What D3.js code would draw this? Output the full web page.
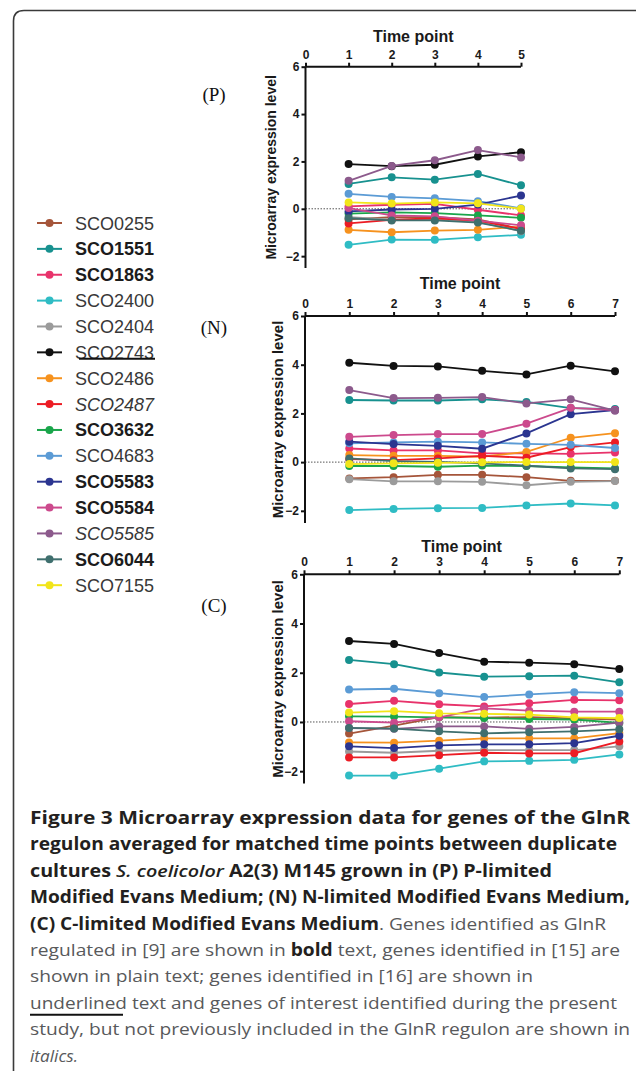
<!DOCTYPE html>
<html><head><meta charset="utf-8">
<script src="https://cdn.jsdelivr.net/npm/d3@7"></script>
<style>body{margin:0;background:#fff}svg{display:block}</style>
</head><body>
<script>
// ---------- DATA ----------
const genes = ["SCO0255","SCO1551","SCO1863","SCO2400","SCO2404","SCO2743","SCO2486","SCO2487","SCO3632","SCO4683","SCO5583","SCO5584","SCO5585","SCO6044","SCO7155"];
const colors = ["#a5553a","#17918f","#e8336b","#2fbcc4","#9b9b9b","#111111","#f6921e","#ec1c24","#19a54a","#5b9bd5","#2b3590","#cc4a8d","#8c5a8c","#3f6f6e","#f2e51a"];
const geneStyle = ["plain","bold","bold","plain","plain","underline","plain","italic","bold","plain","bold","bold","italic","bold","plain"];
const timeP = [1,2,3,4,5];
const timeN = [1,2,3,4,5,6,7];
const timeC = [1,2,3,4,5,6,7];
const yTicks = [-2,0,2,4,6];
const valuesP = [
 [-0.45,-0.35,-0.35,-0.45,-0.85],
 [1.05,1.33,1.23,1.47,0.99],
 [0.10,0.17,0.21,-0.04,-0.28],
 [-1.52,-1.30,-1.31,-1.20,-1.10],
 [-0.35,-0.45,-0.45,-0.55,-0.95],
 [1.89,1.80,1.86,2.21,2.39],
 [-0.89,-0.99,-0.92,-0.89,-0.75],
 [-0.62,-0.47,-0.40,-0.50,-0.85],
 [-0.20,-0.15,-0.18,-0.28,-0.38],
 [0.63,0.50,0.44,0.32,0.02],
 [-0.11,-0.03,0.00,0.18,0.56],
 [0.03,-0.28,-0.32,-0.50,-0.70],
 [1.18,1.81,2.05,2.48,2.17],
 [-0.40,-0.49,-0.49,-0.58,-0.93],
 [0.27,0.22,0.27,0.23,0.00]
];
const valuesN = [
 [-0.67,-0.62,-0.52,-0.52,-0.62,-0.77,-0.77],
 [2.55,2.53,2.53,2.58,2.47,2.22,2.18],
 [0.56,0.48,0.48,0.36,0.36,0.34,0.40],
 [-1.97,-1.92,-1.89,-1.88,-1.78,-1.70,-1.78],
 [-0.70,-0.79,-0.79,-0.81,-0.95,-0.81,-0.78],
 [4.08,3.95,3.93,3.75,3.60,3.96,3.73],
 [0.29,0.26,0.26,0.22,0.42,1.00,1.19],
 [0.12,0.08,0.15,0.26,0.18,0.62,0.81],
 [-0.16,-0.16,-0.19,-0.14,-0.16,-0.22,-0.26],
 [0.77,0.81,0.84,0.81,0.75,0.71,0.58],
 [0.84,0.74,0.67,0.55,1.18,1.97,2.14],
 [1.04,1.11,1.15,1.15,1.58,2.23,2.14],
 [2.96,2.63,2.64,2.67,2.41,2.58,2.11],
 [0.15,0.04,0.01,-0.05,-0.15,-0.26,-0.29],
 [-0.08,-0.05,-0.03,-0.01,0.00,0.00,0.00]
];
const valuesC = [
 [-0.47,-0.15,0.20,0.18,0.20,0.15,0.10],
 [2.52,2.35,2.01,1.84,1.86,1.88,1.61],
 [0.73,0.86,0.72,0.63,0.76,0.90,0.88],
 [-2.18,-2.18,-1.90,-1.60,-1.58,-1.54,-1.32],
 [-1.20,-1.25,-1.17,-1.14,-1.14,-1.14,-0.99],
 [3.29,3.17,2.80,2.45,2.41,2.35,2.15],
 [-0.83,-0.84,-0.76,-0.67,-0.67,-0.67,-0.45],
 [-1.44,-1.44,-1.35,-1.25,-1.28,-1.27,-0.79],
 [0.23,0.22,0.19,0.16,0.12,0.10,-0.04],
 [1.32,1.35,1.17,1.01,1.12,1.21,1.17],
 [-0.99,-1.06,-0.95,-0.91,-0.91,-0.86,-0.56],
 [0.03,-0.03,0.19,0.55,0.46,0.42,0.42],
 [-0.25,-0.28,-0.18,-0.18,-0.28,-0.20,-0.03],
 [-0.24,-0.27,-0.38,-0.46,-0.42,-0.38,-0.30],
 [0.38,0.44,0.35,0.33,0.30,0.19,0.16]
];
const panelTags = ["(P)","(N)","(C)"];
const xTitle = "Time point";
const yTitle = "Microarray expression level";

// caption: lines of [text, style]
const captionLines = [
 [["Figure 3 Microarray expression data for genes of the GlnR","b"]],
 [["regulon averaged for matched time points between duplicate","b"]],
 [["cultures ","b"],["S. coelicolor","i"],[" A2(3) M145 grown in (P) P-limited","b"]],
 [["Modified Evans Medium; (N) N-limited Modified Evans Medium,","b"]],
 [["(C) C-limited Modified Evans Medium","b"],[". Genes identified as GlnR","n"]],
 [["regulated in [9] are shown in ","n"],["bold","b"],[" text, genes identified in [15] are","n"]],
 [["shown in plain text; genes identified in [16] are shown in","n"]],
 [["underlined","n"],[" text and genes of interest identified during the present","n"]],
 [["study, but not previously included in the GlnR regulon are shown in","n"]],
 [["italics.","i2"]]
];
const captionWidths = [600,587,522,600,576,590,503,587,600,48];

// ---------- DRAW ----------
const W=636,H=1071;
const svg=d3.select("body").append("svg").attr("width",W).attr("height",H);

// frame
svg.append("path").attr("d",`M13.5,${H} L13.5,21 Q13.5,10.5 24,10.5 L${W},10.5`)
  .attr("fill","none").attr("stroke","#3a3a3a").attr("stroke-width",1.6);

const layout=[
 {vals:valuesP,t:timeP,x0:305.5,x1:521,yTop:66.7,yBot:268,labX:271,labFs:14,titleY:42,tagY:101},
 {vals:valuesN,t:timeN,x0:305,x1:615,yTop:316,yBot:523,labX:277,labFs:15,titleY:289,tagY:334},
 {vals:valuesC,t:timeC,x0:304,x1:619.3,yTop:574.3,yBot:783.5,labX:277,labFs:15,titleY:552,tagY:612}
];
const FONT="'Liberation Sans',Arial,sans-serif";

layout.forEach((L,pi)=>{
  const n=L.t.length;
  const x=d3.scaleLinear().domain([0,n]).range([L.x0,L.x1]);
  const y=d3.scaleLinear().domain([-2.5,6]).range([L.yBot,L.yTop]);
  const g=svg.append("g");
  // zero dotted line
  g.append("line").attr("x1",x(0)).attr("x2",x(n)).attr("y1",y(0)).attr("y2",y(0))
    .attr("stroke","#555").attr("stroke-width",1).attr("stroke-dasharray","1.5,1.5");
  // series
  L.vals.forEach((vals,gi)=>{
    const s=g.append("g");
    s.append("path").datum(vals).attr("d",d3.line().x((d,i)=>x(L.t[i])).y(d=>y(d)))
      .attr("fill","none").attr("stroke",colors[gi]).attr("stroke-width",1.8);
    s.selectAll("circle").data(vals).join("circle")
      .attr("cx",(d,i)=>x(L.t[i])).attr("cy",d=>y(d)).attr("r",4).attr("fill",colors[gi]);
  });
  // axes
  const ax=g.append("g").attr("transform",`translate(0,${y(6)})`)
    .call(d3.axisTop(x).tickValues(d3.range(0,n+1)).tickSize(4).tickSizeOuter(0).tickPadding(4).tickFormat(d3.format("d")));
  const ay=g.append("g").attr("transform",`translate(${x(0)},0)`)
    .call(d3.axisLeft(y).tickValues(yTicks).tickSize(4).tickSizeOuter(0).tickPadding(2).tickFormat(d3.format("d")));
  [ax,ay].forEach(a=>{
    a.selectAll("path,line").attr("stroke","#111").attr("stroke-width",2);
    a.selectAll("text").attr("fill","#1a1a1a").style("font-family",FONT).style("font-size","12px").style("font-weight","bold");
  });
  ax.select("path").attr("d",`M${x(0)},0H${x(n)}`);
  ay.select("path").attr("d",`M0,${y(-2.5)}V${y(6)}`);
  // titles
  g.append("text").attr("x",(x(0)+x(n))/2).attr("y",L.titleY).attr("text-anchor","middle")
    .style("font-family",FONT).style("font-size","16px").style("font-weight","bold").attr("fill","#1a1a1a").text(xTitle);
  g.append("text").attr("transform",`translate(${L.labX},${(y(-2.5)+y(6))/2}) rotate(-90)`)
    .attr("text-anchor","middle").attr("dominant-baseline","central")
    .style("font-family",FONT).style("font-size",L.labFs+"px").style("font-weight","bold").attr("fill","#1a1a1a").text(yTitle);
  g.append("text").attr("x",214).attr("y",L.tagY).attr("text-anchor","middle")
    .style("font-family","'Liberation Serif','Times New Roman',serif").style("font-size","19px").attr("fill","#111").text(panelTags[pi]);
});

// legend
const lg=svg.append("g");
genes.forEach((name,i)=>{
  const cy=223+i*25.87;
  lg.append("line").attr("x1",37).attr("x2",62).attr("y1",cy).attr("y2",cy).attr("stroke",colors[i]).attr("stroke-width",2);
  lg.append("circle").attr("cx",49.5).attr("cy",cy).attr("r",4).attr("fill",colors[i]);
  const st=geneStyle[i];
  lg.append("text").attr("x",75).attr("y",cy+6.5)
    .style("font-family",FONT).style("font-size","18px")
    .attr("fill",st==="bold"?"#1c1c1c":"#383838")
    .style("font-weight",st==="bold"?"bold":"normal")
    .style("font-style",st==="italic"?"italic":"normal").text(name);
  if(st==="underline"){
    lg.append("line").attr("x1",79).attr("x2",155).attr("y1",cy+6.5).attr("y2",cy+6.5).attr("stroke","#111").attr("stroke-width",2);
  }
});

// caption
const cg=svg.append("g");
captionLines.forEach((parts,li)=>{
  const t=cg.append("text").attr("x",30).attr("y",824+li*26.4)
    .style("font-family","'Open Sans',sans-serif").style("font-size","17px")
    .attr("textLength",captionWidths[li]).attr("lengthAdjust","spacingAndGlyphs");
  parts.forEach(([txt,s])=>{
    const sp=t.append("tspan").text(txt);
    if(s==="b") sp.style("font-weight","700").attr("fill","#231f20");
    else if(s==="i") sp.style("font-style","italic").style("font-weight","600").attr("fill","#231f20");
    else if(s==="i2") sp.style("font-style","italic").attr("fill","#58595b");
    else sp.attr("fill","#58595b");
  });
});
// underline under "underlined"
cg.append("line").attr("x1",30).attr("x2",123).attr("y1",824+7*26.4+6).attr("y2",824+7*26.4+6)
  .attr("stroke","#111").attr("stroke-width",2);
</script>
</body></html>
